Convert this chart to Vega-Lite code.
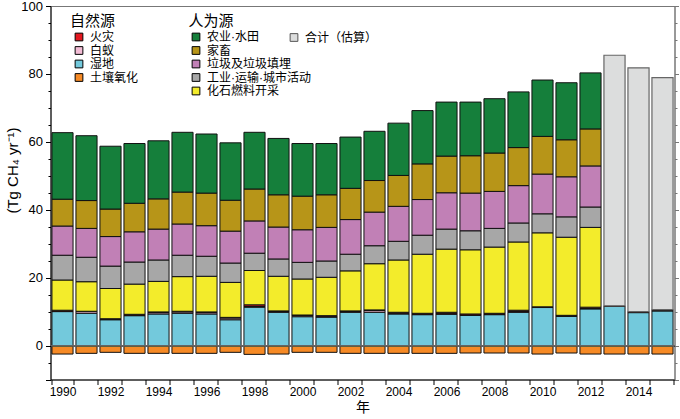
{
  "$schema": "https://vega.github.io/schema/vega-lite/v6.json",
  "width": 624,
  "height": 373.5,
  "autosize": "none",
  "padding": {"left": 50.5, "top": 6, "right": 5.5, "bottom": 39.5},
  "background": "white",
  "config": {
    "view": {"stroke": "#777", "strokeWidth": 1},
    "font": "Liberation Sans",
    "axis": {"labelFont": "Liberation Sans", "labelColor": "black", "domainColor": "black", "tickColor": "black", "grid": false}
  },
  "data": {
    "values": [
      {"year": 1990, "source": "土壤氧化", "value": -2.5}, {"year": 1990, "source": "湿地", "value": 10.0}, {"year": 1990, "source": "白蚁", "value": 0.1}, {"year": 1990, "source": "火灾", "value": 0.3}, {"year": 1990, "source": "化石燃料开采", "value": 8.9}, {"year": 1990, "source": "工业·运输·城市活动", "value": 7.3}, {"year": 1990, "source": "垃圾及垃圾填埋", "value": 8.6}, {"year": 1990, "source": "家畜", "value": 7.9}, {"year": 1990, "source": "农业·水田", "value": 19.6},
      {"year": 1991, "source": "土壤氧化", "value": -2.3}, {"year": 1991, "source": "湿地", "value": 9.5}, {"year": 1991, "source": "白蚁", "value": 0.5}, {"year": 1991, "source": "火灾", "value": 0.1}, {"year": 1991, "source": "化石燃料开采", "value": 8.7}, {"year": 1991, "source": "工业·运输·城市活动", "value": 7.2}, {"year": 1991, "source": "垃圾及垃圾填埋", "value": 8.5}, {"year": 1991, "source": "家畜", "value": 8.2}, {"year": 1991, "source": "农业·水田", "value": 19.1},
      {"year": 1992, "source": "土壤氧化", "value": -2.0}, {"year": 1992, "source": "湿地", "value": 7.6}, {"year": 1992, "source": "白蚁", "value": 0.1}, {"year": 1992, "source": "火灾", "value": 0.2}, {"year": 1992, "source": "化石燃料开采", "value": 8.9}, {"year": 1992, "source": "工业·运输·城市活动", "value": 6.6}, {"year": 1992, "source": "垃圾及垃圾填埋", "value": 8.7}, {"year": 1992, "source": "家畜", "value": 8.1}, {"year": 1992, "source": "农业·水田", "value": 18.5},
      {"year": 1993, "source": "土壤氧化", "value": -2.3}, {"year": 1993, "source": "湿地", "value": 8.8}, {"year": 1993, "source": "白蚁", "value": 0.1}, {"year": 1993, "source": "火灾", "value": 0.3}, {"year": 1993, "source": "化石燃料开采", "value": 8.9}, {"year": 1993, "source": "工业·运输·城市活动", "value": 6.5}, {"year": 1993, "source": "垃圾及垃圾填埋", "value": 8.9}, {"year": 1993, "source": "家畜", "value": 8.4}, {"year": 1993, "source": "农业·水田", "value": 17.6},
      {"year": 1994, "source": "土壤氧化", "value": -2.3}, {"year": 1994, "source": "湿地", "value": 9.3}, {"year": 1994, "source": "白蚁", "value": 0.4}, {"year": 1994, "source": "火灾", "value": 0.2}, {"year": 1994, "source": "化石燃料开采", "value": 9.0}, {"year": 1994, "source": "工业·运输·城市活动", "value": 6.3}, {"year": 1994, "source": "垃圾及垃圾填埋", "value": 9.1}, {"year": 1994, "source": "家畜", "value": 8.9}, {"year": 1994, "source": "农业·水田", "value": 17.1},
      {"year": 1995, "source": "土壤氧化", "value": -2.3}, {"year": 1995, "source": "湿地", "value": 9.5}, {"year": 1995, "source": "白蚁", "value": 0.4}, {"year": 1995, "source": "火灾", "value": 0.2}, {"year": 1995, "source": "化石燃料开采", "value": 10.2}, {"year": 1995, "source": "工业·运输·城市活动", "value": 6.3}, {"year": 1995, "source": "垃圾及垃圾填埋", "value": 9.2}, {"year": 1995, "source": "家畜", "value": 9.4}, {"year": 1995, "source": "农业·水田", "value": 17.6},
      {"year": 1996, "source": "土壤氧化", "value": -2.3}, {"year": 1996, "source": "湿地", "value": 9.3}, {"year": 1996, "source": "白蚁", "value": 0.4}, {"year": 1996, "source": "火灾", "value": 0.2}, {"year": 1996, "source": "化石燃料开采", "value": 10.5}, {"year": 1996, "source": "工业·运输·城市活动", "value": 5.9}, {"year": 1996, "source": "垃圾及垃圾填埋", "value": 9.0}, {"year": 1996, "source": "家畜", "value": 9.6}, {"year": 1996, "source": "农业·水田", "value": 17.4},
      {"year": 1997, "source": "土壤氧化", "value": -2.0}, {"year": 1997, "source": "湿地", "value": 7.6}, {"year": 1997, "source": "白蚁", "value": 0.5}, {"year": 1997, "source": "火灾", "value": 0.2}, {"year": 1997, "source": "化石燃料开采", "value": 10.3}, {"year": 1997, "source": "工业·运输·城市活动", "value": 5.7}, {"year": 1997, "source": "垃圾及垃圾填埋", "value": 9.4}, {"year": 1997, "source": "家畜", "value": 9.1}, {"year": 1997, "source": "农业·水田", "value": 16.9},
      {"year": 1998, "source": "土壤氧化", "value": -2.6}, {"year": 1998, "source": "湿地", "value": 11.3}, {"year": 1998, "source": "白蚁", "value": 0.2}, {"year": 1998, "source": "火灾", "value": 0.5}, {"year": 1998, "source": "化石燃料开采", "value": 10.1}, {"year": 1998, "source": "工业·运输·城市活动", "value": 5.1}, {"year": 1998, "source": "垃圾及垃圾填埋", "value": 9.5}, {"year": 1998, "source": "家畜", "value": 9.4}, {"year": 1998, "source": "农业·水田", "value": 16.7},
      {"year": 1999, "source": "土壤氧化", "value": -2.5}, {"year": 1999, "source": "湿地", "value": 9.8}, {"year": 1999, "source": "白蚁", "value": 0.2}, {"year": 1999, "source": "火灾", "value": 0.2}, {"year": 1999, "source": "化石燃料开采", "value": 10.2}, {"year": 1999, "source": "工业·运输·城市活动", "value": 5.1}, {"year": 1999, "source": "垃圾及垃圾填埋", "value": 9.4}, {"year": 1999, "source": "家畜", "value": 9.5}, {"year": 1999, "source": "农业·水田", "value": 16.6},
      {"year": 2000, "source": "土壤氧化", "value": -2.0}, {"year": 2000, "source": "湿地", "value": 8.5}, {"year": 2000, "source": "白蚁", "value": 0.4}, {"year": 2000, "source": "火灾", "value": 0.1}, {"year": 2000, "source": "化石燃料开采", "value": 10.6}, {"year": 2000, "source": "工业·运输·城市活动", "value": 4.9}, {"year": 2000, "source": "垃圾及垃圾填埋", "value": 9.6}, {"year": 2000, "source": "家畜", "value": 9.9}, {"year": 2000, "source": "农业·水田", "value": 15.5},
      {"year": 2001, "source": "土壤氧化", "value": -2.0}, {"year": 2001, "source": "湿地", "value": 8.4}, {"year": 2001, "source": "白蚁", "value": 0.1}, {"year": 2001, "source": "火灾", "value": 0.3}, {"year": 2001, "source": "化石燃料开采", "value": 11.3}, {"year": 2001, "source": "工业·运输·城市活动", "value": 4.8}, {"year": 2001, "source": "垃圾及垃圾填埋", "value": 9.9}, {"year": 2001, "source": "家畜", "value": 9.6}, {"year": 2001, "source": "农业·水田", "value": 15.1},
      {"year": 2002, "source": "土壤氧化", "value": -2.3}, {"year": 2002, "source": "湿地", "value": 9.8}, {"year": 2002, "source": "白蚁", "value": 0.2}, {"year": 2002, "source": "火灾", "value": 0.2}, {"year": 2002, "source": "化石燃料开采", "value": 11.8}, {"year": 2002, "source": "工业·运输·城市活动", "value": 4.9}, {"year": 2002, "source": "垃圾及垃圾填埋", "value": 10.2}, {"year": 2002, "source": "家畜", "value": 9.2}, {"year": 2002, "source": "农业·水田", "value": 15.1},
      {"year": 2003, "source": "土壤氧化", "value": -2.3}, {"year": 2003, "source": "湿地", "value": 9.8}, {"year": 2003, "source": "白蚁", "value": 0.5}, {"year": 2003, "source": "火灾", "value": 0.2}, {"year": 2003, "source": "化石燃料开采", "value": 13.6}, {"year": 2003, "source": "工业·运输·城市活动", "value": 5.3}, {"year": 2003, "source": "垃圾及垃圾填埋", "value": 9.9}, {"year": 2003, "source": "家畜", "value": 9.3}, {"year": 2003, "source": "农业·水田", "value": 14.5},
      {"year": 2004, "source": "土壤氧化", "value": -2.3}, {"year": 2004, "source": "湿地", "value": 9.3}, {"year": 2004, "source": "白蚁", "value": 0.2}, {"year": 2004, "source": "火灾", "value": 0.3}, {"year": 2004, "source": "化石燃料开采", "value": 15.4}, {"year": 2004, "source": "工业·运输·城市活动", "value": 5.5}, {"year": 2004, "source": "垃圾及垃圾填埋", "value": 10.3}, {"year": 2004, "source": "家畜", "value": 9.1}, {"year": 2004, "source": "农业·水田", "value": 15.4},
      {"year": 2005, "source": "土壤氧化", "value": -2.3}, {"year": 2005, "source": "湿地", "value": 9.1}, {"year": 2005, "source": "白蚁", "value": 0.1}, {"year": 2005, "source": "火灾", "value": 0.3}, {"year": 2005, "source": "化石燃料开采", "value": 17.4}, {"year": 2005, "source": "工业·运输·城市活动", "value": 5.6}, {"year": 2005, "source": "垃圾及垃圾填埋", "value": 10.5}, {"year": 2005, "source": "家畜", "value": 10.5}, {"year": 2005, "source": "农业·水田", "value": 15.7},
      {"year": 2006, "source": "土壤氧化", "value": -2.3}, {"year": 2006, "source": "湿地", "value": 9.2}, {"year": 2006, "source": "白蚁", "value": 0.2}, {"year": 2006, "source": "火灾", "value": 0.4}, {"year": 2006, "source": "化石燃料开采", "value": 18.6}, {"year": 2006, "source": "工业·运输·城市活动", "value": 5.9}, {"year": 2006, "source": "垃圾及垃圾填埋", "value": 10.7}, {"year": 2006, "source": "家畜", "value": 10.8}, {"year": 2006, "source": "农业·水田", "value": 15.9},
      {"year": 2007, "source": "土壤氧化", "value": -2.2}, {"year": 2007, "source": "湿地", "value": 8.9}, {"year": 2007, "source": "白蚁", "value": 0.1}, {"year": 2007, "source": "火灾", "value": 0.3}, {"year": 2007, "source": "化石燃料开采", "value": 18.9}, {"year": 2007, "source": "工业·运输·城市活动", "value": 5.6}, {"year": 2007, "source": "垃圾及垃圾填埋", "value": 11.1}, {"year": 2007, "source": "家畜", "value": 11.0}, {"year": 2007, "source": "农业·水田", "value": 15.8},
      {"year": 2008, "source": "土壤氧化", "value": -2.2}, {"year": 2008, "source": "湿地", "value": 9.1}, {"year": 2008, "source": "白蚁", "value": 0.1}, {"year": 2008, "source": "火灾", "value": 0.3}, {"year": 2008, "source": "化石燃料开采", "value": 19.5}, {"year": 2008, "source": "工业·运输·城市活动", "value": 5.5}, {"year": 2008, "source": "垃圾及垃圾填埋", "value": 10.9}, {"year": 2008, "source": "家畜", "value": 11.3}, {"year": 2008, "source": "农业·水田", "value": 16.0},
      {"year": 2009, "source": "土壤氧化", "value": -2.2}, {"year": 2009, "source": "湿地", "value": 9.8}, {"year": 2009, "source": "白蚁", "value": 0.2}, {"year": 2009, "source": "火灾", "value": 0.4}, {"year": 2009, "source": "化石燃料开采", "value": 20.1}, {"year": 2009, "source": "工业·运输·城市活动", "value": 5.6}, {"year": 2009, "source": "垃圾及垃圾填埋", "value": 11.0}, {"year": 2009, "source": "家畜", "value": 11.2}, {"year": 2009, "source": "农业·水田", "value": 16.4},
      {"year": 2010, "source": "土壤氧化", "value": -2.5}, {"year": 2010, "source": "湿地", "value": 11.2}, {"year": 2010, "source": "白蚁", "value": 0.1}, {"year": 2010, "source": "火灾", "value": 0.1}, {"year": 2010, "source": "化石燃料开采", "value": 21.8}, {"year": 2010, "source": "工业·运输·城市活动", "value": 5.6}, {"year": 2010, "source": "垃圾及垃圾填埋", "value": 11.7}, {"year": 2010, "source": "家畜", "value": 11.1}, {"year": 2010, "source": "农业·水田", "value": 16.6},
      {"year": 2011, "source": "土壤氧化", "value": -2.2}, {"year": 2011, "source": "湿地", "value": 8.6}, {"year": 2011, "source": "白蚁", "value": 0.1}, {"year": 2011, "source": "火灾", "value": 0.2}, {"year": 2011, "source": "化石燃料开采", "value": 23.0}, {"year": 2011, "source": "工业·运输·城市活动", "value": 6.0}, {"year": 2011, "source": "垃圾及垃圾填埋", "value": 11.8}, {"year": 2011, "source": "家畜", "value": 10.9}, {"year": 2011, "source": "农业·水田", "value": 16.8},
      {"year": 2012, "source": "土壤氧化", "value": -2.5}, {"year": 2012, "source": "湿地", "value": 10.8}, {"year": 2012, "source": "白蚁", "value": 0.1}, {"year": 2012, "source": "火灾", "value": 0.4}, {"year": 2012, "source": "化石燃料开采", "value": 23.5}, {"year": 2012, "source": "工业·运输·城市活动", "value": 6.0}, {"year": 2012, "source": "垃圾及垃圾填埋", "value": 12.1}, {"year": 2012, "source": "家畜", "value": 10.9}, {"year": 2012, "source": "农业·水田", "value": 16.5},
      {"year": 2013, "source": "土壤氧化", "value": -2.5}, {"year": 2013, "source": "湿地", "value": 11.5}, {"year": 2013, "source": "白蚁", "value": 0.1}, {"year": 2013, "source": "火灾", "value": 0.1}, {"year": 2013, "source": "合计（估算）", "value": 73.8},
      {"year": 2014, "source": "土壤氧化", "value": -2.5}, {"year": 2014, "source": "湿地", "value": 9.7}, {"year": 2014, "source": "白蚁", "value": 0.1}, {"year": 2014, "source": "火灾", "value": 0.2}, {"year": 2014, "source": "合计（估算）", "value": 71.8},
      {"year": 2015, "source": "土壤氧化", "value": -2.5}, {"year": 2015, "source": "湿地", "value": 10.2}, {"year": 2015, "source": "白蚁", "value": 0.1}, {"year": 2015, "source": "火灾", "value": 0.3}, {"year": 2015, "source": "合计（估算）", "value": 68.3}
    ]
  },
  "transform": [
    {"calculate": "indexof(['土壤氧化','湿地','白蚁','火灾','化石燃料开采','工业·运输·城市活动','垃圾及垃圾填埋','家畜','农业·水田','合计（估算）'], datum.source)", "as": "k"},
    {"stack": "value", "groupby": ["year"], "sort": [{"field": "k", "order": "ascending"}], "as": ["v0", "v1"]}
  ],
  "layer": [
    {
      "transform": [{"filter": {"field": "source", "oneOf": ["土壤氧化", "湿地", "白蚁", "火灾"]}}],
      "mark": {"type": "bar", "stroke": "#111", "strokeWidth": 1},
      "encoding": {
        "x": {
          "field": "year", "type": "ordinal",
          "scale": {"paddingInner": 0.12, "paddingOuter": 0.06},
          "axis": {
            "title": "年", "titleFont": "Noto Sans CJK SC", "titleFontSize": 14, "titleFontWeight": "normal", "titlePadding": 3,
            "labelAngle": 0, "labelFontSize": 12, "labelPadding": 2, "tickBand": "extent", "tickSize": 5,
            "labelExpr": "datum.value % 2 == 0 ? datum.label : ''"
          }
        },
        "y": {
          "field": "v1", "type": "quantitative",
          "scale": {"domain": [-10, 100], "nice": false, "zero": false},
          "axis": {
            "orient": "left",
            "title": "(Tg CH₄ yr⁻¹)", "titleFontSize": 15, "titleFontWeight": "normal",
            "titleX": -38, "titleY": 164, "titleAlign": "center", "titleBaseline": "middle", "titleAngle": -90,
            "values": [-10, -5, 0, 5, 10, 15, 20, 25, 30, 35, 40, 45, 50, 55, 60, 65, 70, 75, 80, 85, 90, 95, 100],
            "labelExpr": "datum.value >= 0 && datum.value % 20 == 0 ? datum.label : ''",
            "labelFontSize": 13, "labelPadding": 3,
            "tickSize": {"condition": {"test": "datum.value % 20 == 0 || datum.value == -10", "value": 5}, "value": 2.5}
          }
        },
        "y2": {"field": "v0"},
        "color": {
          "field": "source", "type": "nominal",
          "scale": {"domain": ["火灾", "白蚁", "湿地", "土壤氧化"], "range": ["#e3171f", "#f3bcd5", "#73c9dc", "#f68a25"]},
          "legend": {
            "title": "自然源", "orient": "none", "legendX": 19.5, "legendY": 8,
            "titleFont": "Noto Sans CJK SC", "titleFontSize": 15, "titleFontWeight": "normal", "titlePadding": 2,
            "labelFont": "Liberation Sans, Noto Sans CJK SC", "labelFontSize": 12, "labelOffset": 5,
            "symbolType": "square", "symbolSize": 60, "symbolStrokeColor": "black", "symbolStrokeWidth": 1, "symbolOffset": 3,
            "rowPadding": 1.5, "padding": 0
          }
        }
      }
    },
    {
      "transform": [{"filter": {"field": "source", "oneOf": ["化石燃料开采", "工业·运输·城市活动", "垃圾及垃圾填埋", "家畜", "农业·水田"]}}],
      "mark": {"type": "bar", "stroke": "#111", "strokeWidth": 1},
      "encoding": {
        "x": {"field": "year", "type": "ordinal"},
        "y": {"field": "v1", "type": "quantitative", "axis": null},
        "y2": {"field": "v0"},
        "color": {
          "field": "source", "type": "nominal",
          "scale": {"domain": ["农业·水田", "家畜", "垃圾及垃圾填埋", "工业·运输·城市活动", "化石燃料开采"], "range": ["#157f3b", "#b79518", "#c180b6", "#a7a7a7", "#f3ec2b"]},
          "legend": {
            "title": "人为源", "orient": "none", "legendX": 138, "legendY": 8,
            "titleFont": "Noto Sans CJK SC", "titleFontSize": 15, "titleFontWeight": "normal", "titlePadding": 2,
            "labelFont": "Liberation Sans, Noto Sans CJK SC", "labelFontSize": 12, "labelOffset": 5,
            "symbolType": "square", "symbolSize": 60, "symbolStrokeColor": "black", "symbolStrokeWidth": 1, "symbolOffset": 1.5,
            "rowPadding": 1.5, "padding": 0
          }
        }
      }
    },
    {
      "transform": [{"filter": {"field": "source", "equal": "合计（估算）"}}],
      "mark": {"type": "bar", "stroke": "#666", "strokeWidth": 1.2},
      "encoding": {
        "x": {"field": "year", "type": "ordinal"},
        "y": {"field": "v1", "type": "quantitative", "axis": null},
        "y2": {"field": "v0"},
        "color": {
          "field": "source", "type": "nominal",
          "scale": {"domain": ["合计（估算）"], "range": ["#dcdddd"]},
          "legend": {
            "title": null, "orient": "none", "legendX": 237.5, "legendY": 25.5,
            "labelFont": "Liberation Sans, Noto Sans CJK SC", "labelFontSize": 12, "labelOffset": 5,
            "symbolType": "square", "symbolSize": 60, "symbolStrokeColor": "#555", "symbolStrokeWidth": 1,
            "padding": 0
          }
        }
      }
    },
    {
      "mark": {"type": "rule", "color": "#666", "strokeWidth": 1},
      "encoding": {
        "y": {
          "datum": 0, "type": "quantitative",
          "scale": {"domain": [-10, 100], "nice": false, "zero": false},
          "axis": {
            "orient": "right", "title": null, "labels": false,
            "values": [-10, -5, 0, 5, 10, 15, 20, 25, 30, 35, 40, 45, 50, 55, 60, 65, 70, 75, 80, 85, 90, 95, 100],
            "domainColor": "#777", "tickColor": "#777",
            "tickSize": {"condition": {"test": "datum.value % 20 == 0 || datum.value == -10", "value": 4}, "value": 2.5}
          }
        }
      }
    }
  ],
  "resolve": {"scale": {"color": "independent"}, "axis": {"y": "independent"}}
}
